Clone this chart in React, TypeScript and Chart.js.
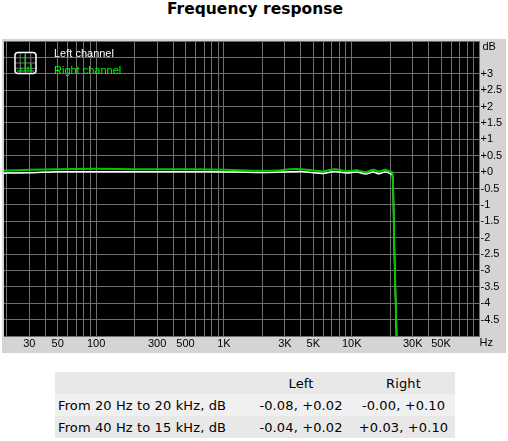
import React, { useEffect, useRef } from "react";
import { Chart, registerables } from "chart.js";

Chart.register(...registerables);

const freqs = [19, 20, 30, 50, 100, 200, 400, 800, 1300, 2000, 2700, 3280, 4050, 4990, 5970, 7380, 9100, 10900, 12890, 14700, 16400, 18150, 19860, 20850, 21500, 22600];
const leftDb = [-0.04, -0.03, -0.02, 0.01, 0.01, 0.01, 0.01, 0.01, 0.0, -0.01, 0.0, 0.01, 0.02, -0.02, -0.04, 0.02, -0.03, 0.0, -0.06, 0.0, -0.05, 0.0, -0.04, -0.1, -2.2, -5.5];
const rightDb = [0.05, 0.05, 0.07, 0.09, 0.1, 0.09, 0.09, 0.08, 0.06, 0.04, 0.05, 0.09, 0.09, 0.05, 0.02, 0.09, 0.03, 0.06, 0.0, 0.07, 0.02, 0.07, 0.02, -0.02, -2.2, -5.5];
const gridFreqs = [20, 30, 40, 50, 60, 70, 80, 90, 100, 200, 300, 400, 500, 600, 700, 800, 900, 1000, 2000, 3000, 4000, 5000, 6000, 7000, 8000, 9000, 10000, 20000, 30000, 40000, 50000, 60000, 70000, 80000, 90000, 100000];
const freqLabels: Record<number, string> = { 30: "30", 50: "50", 100: "100", 300: "300", 500: "500", 1000: "1K", 3000: "3K", 5000: "5K", 10000: "10K", 30000: "30K", 50000: "50K" };
const dbTicks = [3, 2.5, 2, 1.5, 1, 0.5, 0, -0.5, -1, -1.5, -2, -2.5, -3, -3.5, -4, -4.5];
const dbText = (v: number) => (v >= 0 ? "+" : "") + v;
const tableHead = ["", "Left", "Right"];
const tableRows = [
  ["From 20 Hz to 20 kHz, dB", "-0.08, +0.02", "-0.00, +0.10"],
  ["From 40 Hz to 15 kHz, dB", "-0.04, +0.02", "+0.03, +0.10"],
];
const titleText = "Frequency response";

const AXIS_FONT = "'Liberation Sans', sans-serif";

const extras = {
  id: "extras",
  afterDraw(chart: any) {
    const { ctx, chartArea: a } = chart;
    ctx.save();
    ctx.font = `11px ${AXIS_FONT}`;
    ctx.textBaseline = "middle";
    ctx.textAlign = "left";
    ctx.fillStyle = "#000";
    dbTicks.forEach((v) => ctx.fillText(dbText(v), a.right + 1, chart.scales.y.getPixelForValue(v)));
    ctx.fillText("dB", a.right + 3, a.top + 6);
    ctx.fillText("Hz", a.right + 0, a.bottom + 7);
    // legend
    ctx.fillStyle = "#ffffff";
    ctx.fillText(chart.data.datasets[0].label, a.left + 50, a.top + 13);
    ctx.fillStyle = "#00ff00";
    ctx.fillText(chart.data.datasets[1].label, a.left + 50, a.top + 30);
    // icon
    const ix = a.left + 11, iy = a.top + 11.5, s = 21;
    ctx.fillStyle = "#000";
    ctx.fillRect(ix, iy, s, s);
    ctx.strokeStyle = "#777";
    ctx.lineWidth = 1;
    for (let i = 1; i < 4; i++) {
      ctx.beginPath(); ctx.moveTo(ix + (i * s) / 4, iy); ctx.lineTo(ix + (i * s) / 4, iy + s); ctx.stroke();
      ctx.beginPath(); ctx.moveTo(ix, iy + (i * s) / 4); ctx.lineTo(ix + s, iy + (i * s) / 4); ctx.stroke();
    }
    ctx.strokeStyle = "#00ff00";
    ctx.beginPath();
    ctx.moveTo(ix + 2, iy + 18.5); ctx.lineTo(ix + 19, iy + 18.5);
    ctx.moveTo(ix + 10, iy + 18.5); ctx.lineTo(ix + 10, iy + 2);
    ctx.moveTo(ix + 16, iy + 18.5); ctx.lineTo(ix + 16, iy + 11);
    ctx.moveTo(ix + 13, iy + 18.5); ctx.lineTo(ix + 13, iy + 14);
    ctx.moveTo(ix + 6, iy + 18.5); ctx.lineTo(ix + 6, iy + 15);
    ctx.stroke();
    ctx.strokeStyle = "#ffffff";
    ctx.lineWidth = 1.5;
    ctx.beginPath();
    ctx.roundRect(ix, iy, s, s, 3);
    ctx.stroke();
    ctx.restore();
  },
};

export default function App() {
  const ref = useRef<HTMLCanvasElement>(null);
  useEffect(() => {
    const chart = new Chart(ref.current!, {
      type: "line",
      data: {
        datasets: [
          { label: "Left channel", data: freqs.map((f, i) => ({ x: f, y: leftDb[i] })), borderColor: "#ffffff", borderWidth: 1.5, pointRadius: 0, tension: 0.3, order: 2 },
          { label: "Right channel", data: freqs.map((f, i) => ({ x: f, y: rightDb[i] })), borderColor: "#00c800", borderWidth: 2, pointRadius: 0, tension: 0.3, order: 1 },
        ],
      },
      options: {
        animation: false,
        responsive: false,
        devicePixelRatio: 1,
        layout: { autoPadding: false, padding: { left: 2, top: 2, right: 0, bottom: 0 } },
        plugins: { legend: { display: false }, tooltip: { enabled: false }, title: { display: false } },
        scales: {
          x: {
            type: "logarithmic",
            position: "bottom",
            min: 19,
            max: 100000,
            border: { display: false },
            grid: { color: "#707070", lineWidth: 1, drawTicks: false },
            afterBuildTicks: (s: any) => { s.ticks = gridFreqs.map((v) => ({ value: v })); },
            afterFit: (s: any) => { s.height = 16; },
            ticks: {
              autoSkip: false, maxRotation: 0, minRotation: 0, padding: 1, color: "#000",
              font: { family: AXIS_FONT, size: 11 },
              callback: (v: any) => freqLabels[Number(v)] ?? "",
            },
          },
          y: {
            type: "linear",
            position: "right",
            min: -5,
            max: 4,
            border: { display: false },
            grid: { color: "#707070", lineWidth: 1, drawTicks: false },
            afterFit: (s: any) => { s.width = 26.5; },
            ticks: { display: false, stepSize: 0.5, autoSkip: false },
          },
        },
      },
      plugins: [
        { id: "bg", beforeDraw(c: any) { const a = c.chartArea; c.ctx.save(); c.ctx.fillStyle = "#000"; c.ctx.fillRect(a.left, a.top, a.right - a.left, a.bottom - a.top); c.ctx.restore(); } },
        extras,
      ],
    } as any);
    return () => chart.destroy();
  }, []);

  const cellBase: React.CSSProperties = { padding: 0, fontFamily: "'DejaVu Sans', sans-serif", fontSize: 13, letterSpacing: 0.12, color: "#000", height: 22, whiteSpace: "nowrap" };
  return (
    <div style={{ position: "absolute", left: 0, top: 0, width: 508, height: 441, background: "#fff", overflow: "hidden" }}>
      <div style={{ position: "absolute", left: 0, top: 0, width: 510, textAlign: "center", fontFamily: "'DejaVu Sans', sans-serif", fontWeight: 700, fontSize: 15.5, lineHeight: "18px", color: "#000" }}>{titleText}</div>
      <div style={{ position: "absolute", left: 2, top: 39, width: 504, height: 313.5, background: "#d4d4d4" }}>
        <canvas ref={ref} width={504} height={313} style={{ display: "block" }} />
      </div>
      <table style={{ position: "absolute", left: 55, top: 372, width: 400, borderCollapse: "collapse", tableLayout: "fixed" }}>
        <colgroup><col style={{ width: 195 }} /><col style={{ width: 102 }} /><col style={{ width: 103 }} /></colgroup>
        <thead>
          <tr style={{ background: "#e8e8e8" }}>
            {tableHead.map((h, i) => <th key={i} style={{ ...cellBase, fontWeight: 400, textAlign: "center" }}>{h}</th>)}
          </tr>
        </thead>
        <tbody>
          {tableRows.map((r, ri) => (
            <tr key={ri} style={{ background: ri === 0 ? "#f0f0f0" : "#e8e8e8" }}>
              {r.map((c, i) => <td key={i} style={{ ...cellBase, textAlign: i === 0 ? "left" : "center", paddingLeft: i === 0 ? 3 : 0 }}>{c}</td>)}
            </tr>
          ))}
        </tbody>
      </table>
    </div>
  );
}
